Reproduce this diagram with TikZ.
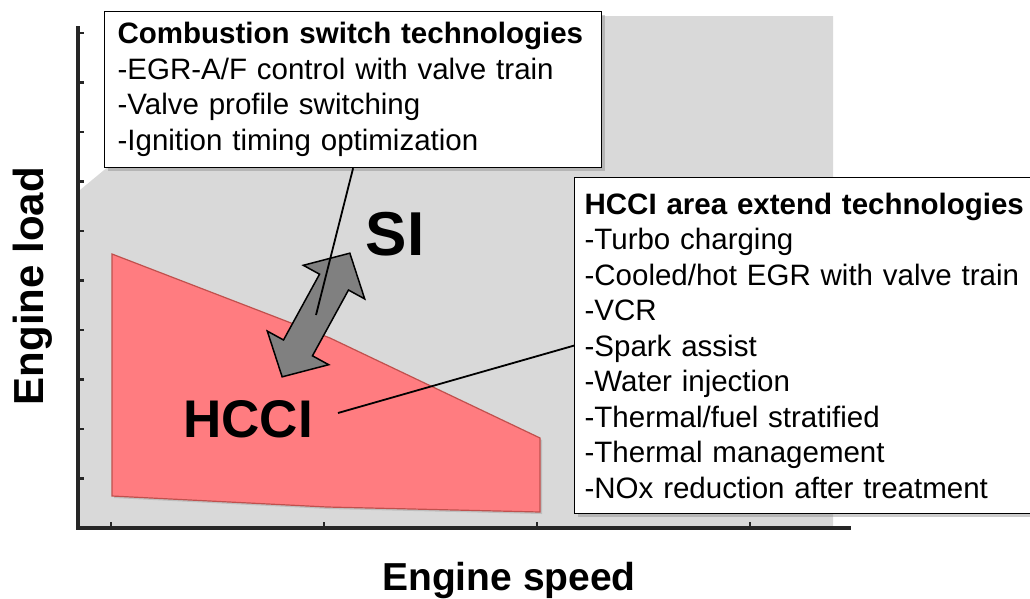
\documentclass[tikz,border=0pt]{standalone}
\usepackage{fontspec}
\setmainfont{Liberation Sans}
\usetikzlibrary{positioning,shadows}
\definecolor{siarea}{HTML}{D9D9D9}
\definecolor{hccired}{HTML}{FF7C80}
\definecolor{hccirim}{HTML}{C0504D}
\definecolor{axisgray}{HTML}{262626}

\begin{document}
\begin{tikzpicture}[x=1pt, y=-1pt,
  techbox/.style={draw, line width=1.2pt, fill=white, anchor=north west, align=left, inner ysep=0pt,
    font=\fontsize{29.5}{35.5}\selectfont, drop shadow={shadow xshift=3pt, shadow yshift=-3pt, opacity=.4}},
  leader/.style={line width=1.8pt},
  biglabel/.style={font=\bfseries\fontsize{#1}{#1}\selectfont}]
\useasboundingbox (0,0) rectangle (1030,598);
\fill[siarea] (80,526) -- (80,190) -- (290,16) -- (833,16) -- (833,526) -- cycle;
\draw[axisgray, line width=3.5pt] (78,26) -- (78,528) -- (851,528);
\foreach \ty in {33,82.5,...,480} \draw[axisgray, line width=2.5pt] (78,\ty) -- (84,\ty);
\foreach \tx in {111,324,537,750} \draw[axisgray, line width=2.5pt] (\tx,528) -- (\tx,522);
\filldraw[fill=hccired, draw=hccirim, line width=1.2pt, drop shadow={shadow xshift=2pt, shadow yshift=-2pt, opacity=.3}]
  (112,254) -- (330,338) -- (540,438) -- (540,512) -- (327,507) -- (112,496) -- cycle;
\begin{scope}[shift={(316,315)}, rotate=61.3]
\coordinate (swc) at (0,0);
\filldraw[fill=gray, line width=1.5pt] (70.5,0) -- (37.5,35) -- (37.5,16.5) -- (-37.5,16.5) -- (-37.5,35) -- (-70.5,0)
  -- (-37.5,-35) -- (-37.5,-16.5) -- (37.5,-16.5) -- (37.5,-35) -- cycle;
\end{scope}
\node[biglabel=62] (sil) at (395,234) {SI};
\node[biglabel=53, inner xsep=25pt] (hccil) at (248,419) {HCCI};
\node[techbox, text width=471pt, inner xsep=13pt, minimum height=156pt] (cbox) at (104,11)
  {\textbf{Combustion switch technologies}\\-EGR-A/F control with valve train\\-Valve profile switching\\-Ignition timing optimization};
\node[techbox, text width=470pt, inner xsep=10pt, minimum height=336pt] (hbox) at (574,177)
  {\textbf{HCCI area extend technologies}\\-Turbo charging\\-Cooled/hot EGR with valve train\\-VCR\\-Spark assist\\-Water injection\\-Thermal/fuel stratified\\-Thermal management\\-NOx reduction after treatment};
\draw[leader] (cbox.south) -- (swc);
\draw[leader] ([yshift=6pt]hccil.east) -- (hbox.west);
\node[biglabel=39] (xlab) at (509,580) {Engine speed};
\node[biglabel=42, rotate=90] (ylab) at (33,286) {Engine load};
\end{tikzpicture}
\end{document}
